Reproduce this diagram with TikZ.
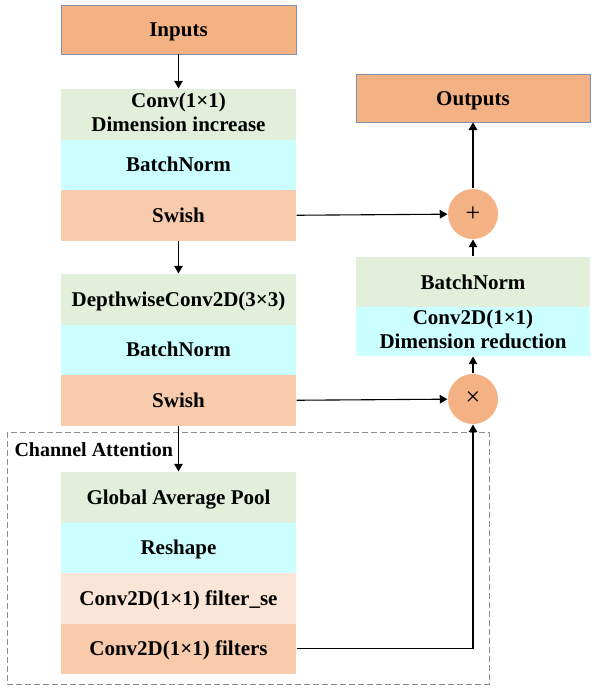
\documentclass[tikz,border=0pt]{standalone}
\usepackage{fontspec}
\setmainfont{Liberation Serif}
\usepackage{tikz}
\usetikzlibrary{arrows}
\usetikzlibrary{positioning}
\definecolor{inout}{HTML}{F4B183}
\definecolor{ioborder}{HTML}{7F8FB0}
\definecolor{convgreen}{HTML}{E2EFDA}
\definecolor{normcyan}{HTML}{CCFFFF}
\definecolor{swish}{HTML}{F8CBAD}
\definecolor{sepale}{HTML}{FBE5D6}
\tikzstyle{layer}=[rectangle,inner sep=0mm,minimum width=235pt,minimum height=50.5pt,text height=17pt,text depth=3pt,font=\fontsize{21}{24}\selectfont\bfseries,align=center]
\tikzstyle{twoline}=[text height=37pt,text depth=2.5pt]
\tikzstyle{conv}=[layer,fill=convgreen]
\tikzstyle{norm}=[layer,fill=normcyan]
\tikzstyle{act}=[layer,fill=swish]
\tikzstyle{io}=[layer,fill=inout,draw=ioborder,line width=0.8pt,minimum height=49pt]
\tikzstyle{op}=[circle,fill=inout,inner sep=0mm,minimum size=50pt,font=\fontsize{26}{26}\selectfont]
\tikzstyle{group}=[dash pattern=on 6pt off 3pt,draw=gray!90,line width=1pt]
\tikzstyle{arrow}=[->,>=triangle 60]
\tikzset{every picture/.style={
    line width=1.1pt
  }
}
\begin{document}
\begin{tikzpicture}[x=1pt,y=-1pt]
          \useasboundingbox (0,0) rectangle (595,689);
          % main branch
          \node[io] at (178.5,29.5) (in) {Inputs};
          \node[conv,twoline] at (178.5,114.25) (exp) {Conv(1×1)\\Dimension increase};
          \node[norm] at (178.5,164.75) (bn1) {BatchNorm};
          \node[act] at (178.5,215.25) (sw1) {Swish};
          \node[conv] at (178.5,299.25) (dw) {DepthwiseConv2D(3×3)};
          \node[norm] at (178.5,349.75) (bn2) {BatchNorm};
          \node[act] at (178.5,400.25) (sw2) {Swish};
          % channel attention
          \draw[group] (7,432) rectangle (489,684);
          \node[anchor=base west,inner sep=0mm,font=\fontsize{20}{22}\selectfont\bfseries] at (14,456) (ca) {Channel Attention};
          \node[conv] at (178.5,497.25) (gap) {Global Average Pool};
          \node[norm] at (178.5,547.75) (rs) {Reshape};
          \node[layer,fill=sepale] at (178.5,598.25) (se) {Conv2D(1×1) filter\_se};
          \node[act] at (178.5,648.75) (fl) {Conv2D(1×1) filters};
          % output branch
          \node[op] at (473,399) (mul) {×};
          \node[norm,twoline,minimum width=234pt,minimum height=49pt] at (473,331.5) (red) {Conv2D(1×1)\\Dimension reduction};
          \node[conv,minimum width=234pt] at (473,282) (bn3) {BatchNorm};
          \node[op] at (473,214) (add) {+};
          \node[io,minimum width=234pt,minimum height=48pt] at (473,98) (out) {Outputs};
          \draw[arrow] (in)--(exp);
          \draw[arrow] (sw1)--(dw);
          \draw[arrow] (sw2)--(gap);
          \draw[arrow] (sw1.east)--(add);
          \draw[arrow] (sw2.east)--(mul);
          \draw[arrow] (fl.east)-|(mul);
          \draw[arrow] (mul)--(red);
          \draw[arrow] (bn3)--(add);
          \draw[arrow] (add)--(out);
        \end{tikzpicture}
\end{document}
